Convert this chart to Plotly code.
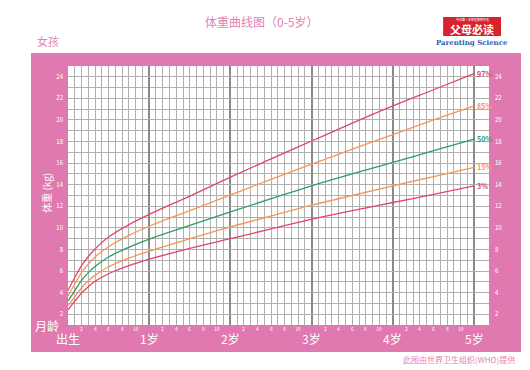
import plotly.graph_objects as go

# ---- data ----
months = [0, 1, 2, 3, 4, 6, 9, 12, 18, 24, 30, 36, 42, 48, 54, 60]
p3  = [2.4, 3.2, 3.95, 4.55, 5.05, 5.75, 6.5, 7.1, 8.1, 9.0, 9.9, 10.8, 11.6, 12.35, 13.1, 13.9]
p15 = [2.8, 3.6, 4.45, 5.1, 5.6, 6.4, 7.2, 7.85, 9.0, 10.1, 11.1, 12.1, 13.0, 13.9, 14.75, 15.6]
p50 = [3.23, 4.19, 5.13, 5.85, 6.42, 7.3, 8.2, 8.95, 10.23, 11.48, 12.7, 13.9, 15.0, 16.07, 17.15, 18.22]
p85 = [3.7, 4.8, 5.85, 6.65, 7.3, 8.25, 9.3, 10.15, 11.6, 13.05, 14.5, 15.9, 17.3, 18.65, 20.0, 21.3]
p97 = [4.2, 5.4, 6.5, 7.35, 8.05, 9.15, 10.3, 11.25, 12.95, 14.7, 16.4, 18.05, 19.7, 21.3, 22.8, 24.3]

series_names = ["97%", "85%", "50%", "15%", "3%"]
series_values = [p97, p85, p50, p15, p3]
series_colors = ["#e2456f", "#f5965a", "#2e9c68", "#f5965a", "#e2456f"]

weight_ticks = list(range(2, 25, 2))
year_months = [0, 12, 24, 36, 48, 60]
year_labels = ["出生", "1岁", "2岁", "3岁", "4岁", "5岁"]
sub_month_labels = ["2", "4", "6", "8", "10"]

PINK = "#e079af"
TEXT_PINK = "#e57fb3"
FONT = "Noto Sans CJK SC"

fig = go.Figure()
for name, vals, col in zip(series_names, series_values, series_colors):
    fig.add_trace(go.Scatter(x=months, y=vals, mode="lines",
                             line=dict(color=col, width=1.3, shape="spline", smoothing=1.0),
                             showlegend=False, hoverinfo="skip"))
    fig.add_annotation(x=months[-1], y=vals[-1], xref="x", yref="y", text="<b>%s</b>" % name,
                       showarrow=False, xanchor="left", xshift=1, font=dict(family=FONT, size=7, color=col))

# invisible trace for right axis
fig.add_trace(go.Scatter(x=[0], y=[1], yaxis="y2", mode="markers", marker=dict(opacity=0),
                         showlegend=False, hoverinfo="skip"))

minor_months = [m for m in range(0, 61) if m % 12 != 0]

fig.update_layout(
    width=522, height=362,
    margin=dict(l=60, r=41, t=58, b=45),
    paper_bgcolor="white", plot_bgcolor="white",
    font=dict(family=FONT),
    xaxis=dict(range=[0, 62.2], tickmode="array", tickvals=year_months, showticklabels=False, ticks="",
               showgrid=True, gridcolor="#8a8a8a", gridwidth=1.6, zeroline=False,
               minor=dict(tickmode="array", tickvals=minor_months, showgrid=True, gridcolor="#b0b0b0",
                          gridwidth=1, ticks="")),
    yaxis=dict(range=[1, 25], tickmode="array", tickvals=weight_ticks, ticktext=[str(v) for v in weight_ticks],
               tickfont=dict(size=6, color="white"), ticks="", ticklabelstandoff=4,
               showgrid=True, gridcolor="#b0b0b0", gridwidth=1, zeroline=False,
               minor=dict(tickmode="array", tickvals=list(range(1, 26, 2)), showgrid=True,
                          gridcolor="#b0b0b0", gridwidth=1, ticks="")),
    yaxis2=dict(range=[1, 25], overlaying="y", side="right", tickmode="array", tickvals=weight_ticks,
                ticktext=[str(v) for v in weight_ticks], tickfont=dict(size=6, color="white"), ticks="",
                ticklabelstandoff=5, showgrid=False, zeroline=False),
)

# pink panel and white plot area
fig.add_shape(type="rect", xref="paper", yref="paper", x0=-0.0879, x1=1.076, y0=-0.104, y1=1.050,
              fillcolor=PINK, line=dict(width=0), layer="below")
fig.add_shape(type="rect", xref="paper", yref="paper", x0=0, x1=1, y0=0, y1=1,
              fillcolor="white", line=dict(width=0), layer="below")

# sub-month tick labels
for ym in year_months[:-1]:
    for s in sub_month_labels:
        fig.add_annotation(x=ym + int(s), y=-0.012, xref="x", yref="paper", text=s, showarrow=False,
                           xanchor="center", yanchor="middle", font=dict(family=FONT, size=5, color="white"))
for m, lab in zip(year_months, year_labels):
    fig.add_annotation(x=m, y=-0.054, xref="x", yref="paper", text=lab, showarrow=False,
                       xanchor="center", yanchor="middle", font=dict(family=FONT, size=12, color="white"))

fig.add_annotation(x=-0.05, y=0.0, xref="paper", yref="paper", text="月龄", showarrow=False,
                   xanchor="center", yanchor="middle", font=dict(family=FONT, size=12, color="white"))
fig.add_annotation(x=-0.05, y=0.51, xref="paper", yref="paper", text="体重 (kg)", textangle=-90,
                   showarrow=False, xanchor="center", yanchor="middle",
                   font=dict(family=FONT, size=10, color="white"))

# titles
fig.add_annotation(x=0.461, y=1.17, xref="paper", yref="paper", text="体重曲线图（0-5岁）", showarrow=False,
                   xanchor="center", yanchor="middle", font=dict(family=FONT, size=12, color=TEXT_PINK))
fig.add_annotation(x=-0.0475, y=1.0965, xref="paper", yref="paper", text="女孩", showarrow=False,
                   xanchor="center", yanchor="middle", font=dict(family=FONT, size=11, color=TEXT_PINK))
fig.add_annotation(x=1.0665, y=-0.135, xref="paper", yref="paper", text="此图由世界卫生组织(WHO)提供",
                   showarrow=False, xanchor="right", yanchor="middle",
                   font=dict(family=FONT, size=8, color=TEXT_PINK))

# logo
fig.add_shape(type="rect", xref="paper", yref="paper", x0=0.891, x1=1.0285, y0=1.116, y1=1.189,
              fillcolor="#d8232f", line=dict(width=0))
fig.add_annotation(x=0.96, y=1.141, xref="paper", yref="paper", text="<b>父母必读</b>", showarrow=False,
                   xanchor="center", yanchor="middle", font=dict(family=FONT, size=11, color="white"))
fig.add_annotation(x=0.96, y=1.181, xref="paper", yref="paper", text="中国第一本家庭教育杂志", showarrow=False,
                   xanchor="center", yanchor="middle", font=dict(family=FONT, size=3, color="white"))
fig.add_annotation(x=0.96, y=1.09, xref="paper", yref="paper", text="<b>Parenting Science</b>",
                   showarrow=False, xanchor="center", yanchor="middle",
                   font=dict(family="DejaVu Serif", size=7, color="#2b5fae"))

fig.write_html("out.html")
